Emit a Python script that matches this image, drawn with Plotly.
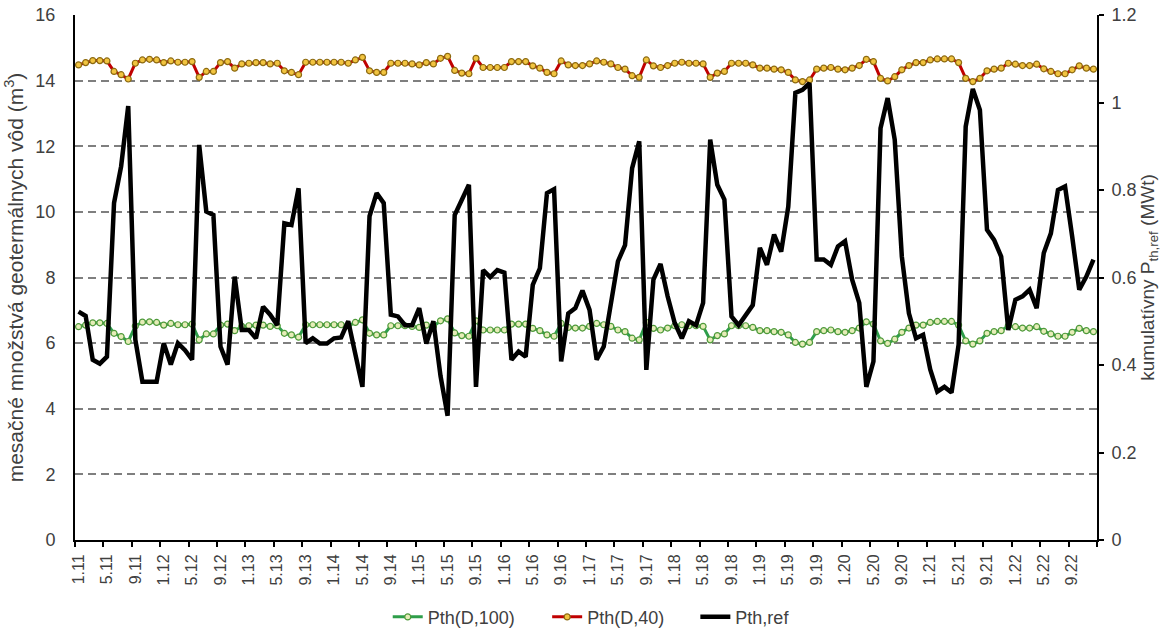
import plotly.graph_objects as go

# Monthly series, Jan 2011 .. Dec 2022 (144 months)
months = list(range(144))

tick_pos = list(range(0, 144, 4))
tick_labels = [
    "1.11", "5.11", "9.11", "1.12", "5.12", "9.12", "1.13", "5.13", "9.13",
    "1.14", "5.14", "9.14", "1.15", "5.15", "9.15", "1.16", "5.16", "9.16",
    "1.17", "5.17", "9.17", "1.18", "5.18", "9.18", "1.19", "5.19", "9.19",
    "1.20", "5.20", "9.20", "1.21", "5.21", "9.21", "1.22", "5.22", "9.22",
]

pth_d100 = [
    6.50, 6.55, 6.62, 6.62, 6.60, 6.30, 6.20, 6.05, 6.52, 6.64,
    6.65, 6.63, 6.55, 6.60, 6.56, 6.56, 6.58, 6.10, 6.28, 6.28,
    6.55, 6.58, 6.38, 6.51, 6.53, 6.55, 6.55, 6.51, 6.53, 6.30,
    6.25, 6.18, 6.56, 6.56, 6.56, 6.56, 6.56, 6.56, 6.53, 6.63,
    6.71, 6.30, 6.25, 6.25, 6.53, 6.53, 6.53, 6.51, 6.48, 6.55,
    6.51, 6.68, 6.74, 6.31, 6.23, 6.21, 6.68, 6.40, 6.40, 6.40,
    6.40, 6.58, 6.58, 6.58, 6.45, 6.38, 6.25, 6.21, 6.60, 6.48,
    6.46, 6.46, 6.51, 6.60, 6.56, 6.51, 6.40, 6.35, 6.15, 6.10,
    6.63, 6.45, 6.40, 6.46, 6.53, 6.56, 6.53, 6.53, 6.51, 6.10,
    6.23, 6.28, 6.53, 6.53, 6.53, 6.48, 6.38, 6.38, 6.35, 6.33,
    6.25, 6.02, 5.97, 6.02, 6.35, 6.38, 6.40, 6.35, 6.33, 6.38,
    6.46, 6.65, 6.58, 6.07, 5.99, 6.12, 6.33, 6.46, 6.55, 6.55,
    6.63, 6.66, 6.66, 6.66, 6.55, 6.07, 5.97, 6.07, 6.30, 6.35,
    6.38, 6.53, 6.50, 6.46, 6.46, 6.50, 6.36, 6.28, 6.21, 6.21,
    6.33, 6.45, 6.38, 6.35,
]

pth_d40 = [
    14.48, 14.55, 14.61, 14.61, 14.60, 14.28, 14.18, 14.05, 14.53, 14.63,
    14.65, 14.63, 14.55, 14.60, 14.56, 14.56, 14.58, 14.10, 14.28, 14.28,
    14.55, 14.58, 14.38, 14.51, 14.53, 14.55, 14.55, 14.51, 14.53, 14.30,
    14.25, 14.18, 14.56, 14.56, 14.56, 14.56, 14.56, 14.56, 14.53, 14.63,
    14.71, 14.30, 14.25, 14.25, 14.53, 14.53, 14.53, 14.51, 14.48, 14.55,
    14.51, 14.68, 14.74, 14.31, 14.23, 14.21, 14.68, 14.40, 14.40, 14.40,
    14.40, 14.58, 14.58, 14.58, 14.45, 14.38, 14.25, 14.21, 14.60, 14.48,
    14.46, 14.46, 14.51, 14.60, 14.56, 14.51, 14.40, 14.35, 14.15, 14.10,
    14.63, 14.45, 14.40, 14.46, 14.53, 14.56, 14.53, 14.53, 14.51, 14.10,
    14.23, 14.28, 14.53, 14.53, 14.53, 14.48, 14.38, 14.38, 14.35, 14.33,
    14.25, 14.02, 13.97, 14.02, 14.35, 14.38, 14.40, 14.35, 14.33, 14.38,
    14.46, 14.65, 14.58, 14.07, 13.99, 14.12, 14.33, 14.46, 14.55, 14.55,
    14.63, 14.66, 14.66, 14.66, 14.55, 14.07, 13.97, 14.07, 14.30, 14.35,
    14.38, 14.53, 14.50, 14.46, 14.46, 14.50, 14.36, 14.28, 14.21, 14.21,
    14.33, 14.45, 14.38, 14.35,
]

# cumulative thermal output, MWt (right axis)
pth_ref = [
    0.522, 0.512, 0.412, 0.403, 0.419, 0.770, 0.854, 0.992, 0.458, 0.362,
    0.362, 0.362, 0.450, 0.401, 0.450, 0.434, 0.412, 0.903, 0.751, 0.743,
    0.442, 0.401, 0.602, 0.480, 0.480, 0.461, 0.533, 0.515, 0.491, 0.724,
    0.720, 0.804, 0.450, 0.461, 0.449, 0.449, 0.461, 0.463, 0.500, 0.428,
    0.350, 0.740, 0.793, 0.770, 0.515, 0.511, 0.491, 0.491, 0.530, 0.449,
    0.500, 0.375, 0.284, 0.743, 0.778, 0.812, 0.350, 0.617, 0.601, 0.617,
    0.611, 0.412, 0.431, 0.419, 0.583, 0.621, 0.793, 0.802, 0.408, 0.518,
    0.530, 0.570, 0.526, 0.412, 0.442, 0.542, 0.637, 0.674, 0.850, 0.911,
    0.389, 0.595, 0.631, 0.557, 0.496, 0.461, 0.500, 0.491, 0.542, 0.915,
    0.812, 0.778, 0.511, 0.491, 0.515, 0.537, 0.668, 0.629, 0.698, 0.659,
    0.762, 1.022, 1.029, 1.044, 0.641, 0.641, 0.629, 0.671, 0.683, 0.595,
    0.542, 0.350, 0.408, 0.941, 1.010, 0.915, 0.648, 0.518, 0.461, 0.469,
    0.390, 0.339, 0.350, 0.337, 0.446, 0.945, 1.031, 0.983, 0.709, 0.686,
    0.648, 0.480, 0.549, 0.557, 0.572, 0.530, 0.656, 0.701, 0.800, 0.808,
    0.694, 0.572, 0.602, 0.641,
]

TEXT = "#404040"
FONT = "Liberation Sans, Arial, sans-serif"

fig = go.Figure()

fig.add_trace(go.Scatter(
    x=months, y=pth_d100, name="Pth(D,100)", mode="lines+markers",
    legend="legend",
    line=dict(color="#2E9E4A", width=3),
    marker=dict(symbol="circle", size=6, color="#E6EDB8",
                line=dict(color="#4E9A3A", width=1.2)),
))
fig.add_trace(go.Scatter(
    x=months, y=pth_d40, name="Pth(D,40)", mode="lines+markers",
    legend="legend2",
    line=dict(color="#C00000", width=3),
    marker=dict(symbol="circle", size=6, color="#F2C440",
                line=dict(color="#8C6A10", width=1.2)),
))
fig.add_trace(go.Scatter(
    x=months, y=pth_ref, name="Pth,ref", mode="lines", yaxis="y2",
    legend="legend3",
    line=dict(color="#000000", width=4.5),
))

boundaries = [p - 0.5 for p in tick_pos] + [143.5]

legend_common = dict(orientation="h", xanchor="left", y=-0.147,
                     yanchor="middle", font=dict(size=18, color=TEXT),
                     bgcolor="rgba(0,0,0,0)")

fig.update_layout(
    width=1173, height=630,
    margin=dict(l=75, r=76, t=15, b=90, autoexpand=False),
    paper_bgcolor="white", plot_bgcolor="white",
    font=dict(family=FONT, color=TEXT, size=16),
    showlegend=True,
    legend=dict(x=0.306, **legend_common),
    legend2=dict(x=0.462, **legend_common),
    legend3=dict(x=0.607, **legend_common),
    xaxis=dict(
        range=[-0.5, 143.5], tickmode="array", tickvals=tick_pos,
        ticktext=tick_labels, tickangle=-90, automargin=False,
        tickfont=dict(size=16, color=TEXT),
        ticks="outside", ticklen=0, ticklabelstandoff=6,
        showgrid=False, zeroline=False,
        showline=True, linecolor="black", linewidth=2,
        minor=dict(tickmode="array", tickvals=boundaries, ticks="outside",
                   ticklen=5, tickwidth=1.5, tickcolor="black",
                   showgrid=False),
    ),
    yaxis=dict(
        range=[0, 16], tickmode="linear", tick0=0, dtick=2,
        automargin=False,
        tickfont=dict(size=18, color=TEXT),
        ticks="", ticklabelstandoff=14,
        showgrid=True, gridcolor="#7F7F7F", gridwidth=2,
        griddash="8px,5px",
        zeroline=False, showline=True, linecolor="black", linewidth=2,
        title=dict(text="mesačné množstvá geotermálnych vôd (m<sup>3</sup>)",
                   font=dict(size=21, color=TEXT), standoff=6),
    ),
    yaxis2=dict(
        range=[0, 1.2], tickmode="linear", tick0=0, dtick=0.2,
        overlaying="y", side="right", automargin=False,
        tickfont=dict(size=18, color=TEXT),
        ticks="outside", ticklen=5, tickwidth=2, tickcolor="black",
        ticklabelstandoff=4,
        showgrid=False, zeroline=False,
        showline=True, linecolor="black", linewidth=2,
        title=dict(text="kumulatívny P<sub>th,ref</sub> (MWt)",
                   font=dict(size=19, color=TEXT), standoff=4),
    ),
)

fig.write_html("out.html")
